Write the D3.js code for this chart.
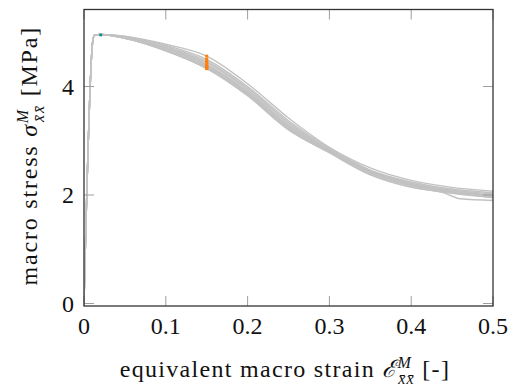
<!DOCTYPE html>
<html>
<head>
<meta charset="utf-8">
<script src="https://cdn.jsdelivr.net/npm/d3@7"></script>
<style>
  body { margin: 0; background: #fff; }
  text { font-family: "Liberation Serif", "DejaVu Serif", serif; fill: #111; }
</style>
</head>
<body>
<svg id="chart"></svg>
<script>
// strain points shared by the runs
var strain = [0, 0.0108, 0.013, 0.02, 0.05, 0.1, 0.15, 0.2, 0.25, 0.3, 0.35, 0.4, 0.45, 0.5];
// the lowest run has a small drop near 0.45
var strainLow = [0, 0.0108, 0.013, 0.02, 0.05, 0.1, 0.15, 0.2, 0.25, 0.3, 0.35, 0.4, 0.44, 0.46, 0.5];
var load = [0, 4.85, 4.95, 4.96];

// softening branch of each run (from strain 0.05 on)
var run1  = [4.93, 4.78, 4.56, 4.05, 3.42, 2.88, 2.50, 2.27, 2.14, 2.07];
var run2  = [4.92, 4.76, 4.50, 4.00, 3.37, 2.86, 2.46, 2.24, 2.11, 2.04];
var run3  = [4.92, 4.74, 4.47, 3.97, 3.34, 2.84, 2.45, 2.22, 2.09, 2.02];
var run4  = [4.91, 4.72, 4.44, 3.94, 3.31, 2.83, 2.44, 2.21, 2.08, 2.00];
var run5  = [4.91, 4.71, 4.41, 3.91, 3.28, 2.82, 2.43, 2.20, 2.07, 1.99];
var run6  = [4.90, 4.70, 4.39, 3.89, 3.26, 2.81, 2.42, 2.19, 2.06, 1.98];
var run7  = [4.90, 4.68, 4.37, 3.87, 3.24, 2.80, 2.41, 2.18, 2.05, 1.97];
var run8  = [4.89, 4.67, 4.35, 3.85, 3.22, 2.79, 2.40, 2.17, 2.04, 1.96];
var run9  = [4.89, 4.66, 4.33, 3.83, 3.20, 2.78, 2.38, 2.15, 2.03, 1.95];
var run10 = [4.89, 4.66, 4.34, 3.84, 3.21, 2.78, 2.37, 2.14, 2.04, 1.93, 1.90];
var runs = [run1, run2, run3, run4, run5, run6, run7, run8, run9, run10];

var peakPoint = [0.0205, 4.95];
var markStrain = 0.15;

var xTicks = [0, 0.1, 0.2, 0.3, 0.4, 0.5];
var yTicks = [0, 2, 4];

var W = 513, H = 389;
var margin = { top: 9.5, left: 84 },
    width = 493 - margin.left,
    height = 306 - margin.top;

var x = d3.scaleLinear().domain([0, 0.5]).range([0, width]);
var y = d3.scaleLinear().domain([-0.046, 5.42]).range([height, 0]);

var svg = d3.select("#chart").attr("width", W).attr("height", H);
var chart = svg.append("g")
    .attr("transform", "translate(" + margin.left + "," + margin.top + ")");

var line = d3.line()
    .x(function(d) { return x(d[0]); })
    .y(function(d) { return y(d[1]); })
    .curve(d3.curveMonotoneX);

var curves = runs.map(function(r) {
    var vals = load.concat(r);
    var xs = vals.length === strainLow.length ? strainLow : strain;
    return xs.map(function(s, i) { return [s, vals[i]]; });
});

chart.append("defs").append("clipPath").attr("id", "clip")
    .append("rect").attr("width", width).attr("height", height);

chart.append("g").attr("clip-path", "url(#clip)")
    .selectAll("path")
    .data(curves)
    .enter().append("path")
    .attr("d", line)
    .attr("fill", "none")
    .attr("stroke", "#c2c2c2")
    .attr("stroke-width", 1.4);

// orange marks at strain 0.15
chart.selectAll("rect.mark")
    .data(curves)
    .enter().append("rect")
    .attr("class", "mark")
    .attr("x", x(markStrain) - 1.5)
    .attr("y", function(d) {
        var p = d.find(function(q) { return q[0] === markStrain; });
        return y(p[1]) - 1.5;
    })
    .attr("width", 3)
    .attr("height", 3)
    .attr("fill", "#ff7f0e");

// teal peak mark
chart.append("rect")
    .attr("x", x(peakPoint[0]) - 1.3)
    .attr("y", y(peakPoint[1]) - 1.3)
    .attr("width", 2.6)
    .attr("height", 2.6)
    .attr("fill", "#008b8b");

// ticks (inside, mirrored)
var tickLen = 10;
var ticks = chart.append("g").attr("stroke", "#9e9e9e").attr("stroke-width", 1);
xTicks.forEach(function(t) {
    ticks.append("line").attr("x1", x(t)).attr("x2", x(t)).attr("y1", height).attr("y2", height - tickLen);
    ticks.append("line").attr("x1", x(t)).attr("x2", x(t)).attr("y1", 0).attr("y2", tickLen);
});
yTicks.forEach(function(t) {
    ticks.append("line").attr("x1", 0).attr("x2", tickLen).attr("y1", y(t)).attr("y2", y(t));
    ticks.append("line").attr("x1", width).attr("x2", width - tickLen).attr("y1", y(t)).attr("y2", y(t));
});

chart.append("rect")
    .attr("width", width).attr("height", height)
    .attr("fill", "none").attr("stroke", "#333").attr("stroke-width", 1.3);

// tick labels
chart.selectAll("text.xt")
    .data(xTicks)
    .enter().append("text")
    .attr("x", function(d) { return x(d); })
    .attr("y", height + 28)
    .attr("text-anchor", "middle")
    .style("font-size", "24px")
    .text(function(d) { return d === 0 ? "0" : d3.format(".1f")(d); });

chart.selectAll("text.yt")
    .data(yTicks)
    .enter().append("text")
    .attr("x", -10)
    .attr("y", function(d) { return y(d) + 8; })
    .attr("text-anchor", "end")
    .style("font-size", "24px")
    .text(function(d) { return d; });

// axis titles
var xl = svg.append("text")
    .attr("x", 285)
    .attr("y", 377)
    .attr("text-anchor", "middle")
    .style("font-size", "24px")
    .style("letter-spacing", "1.3px");
xl.append("tspan").text("equivalent macro strain ");
xl.append("tspan").style("font-style", "italic").text("\u2130");
xl.append("tspan").attr("dy", -9).style("font-size", "16px").style("font-style", "italic").text("M");
xl.append("tspan").attr("dx", -14).attr("dy", 16).style("font-size", "16px").style("font-style", "italic").text("x\u0304x\u0304");
xl.append("tspan").attr("dy", -7).text(" [-]");

var yl = svg.append("text")
    .attr("transform", "translate(37," + (margin.top + height / 2 - 2) + ") rotate(-90)")
    .attr("text-anchor", "middle")
    .style("font-size", "24px")
    .style("letter-spacing", "1.8px");
yl.append("tspan").text("macro stress ");
yl.append("tspan").style("font-style", "italic").text("\u03c3");
yl.append("tspan").attr("dy", -9).style("font-size", "16px").style("font-style", "italic").text("M");
yl.append("tspan").attr("dx", -14).attr("dy", 16).style("font-size", "16px").style("font-style", "italic").text("x\u0304x\u0304");
yl.append("tspan").attr("dy", -7).text(" [MPa]");
</script>
</body>
</html>
